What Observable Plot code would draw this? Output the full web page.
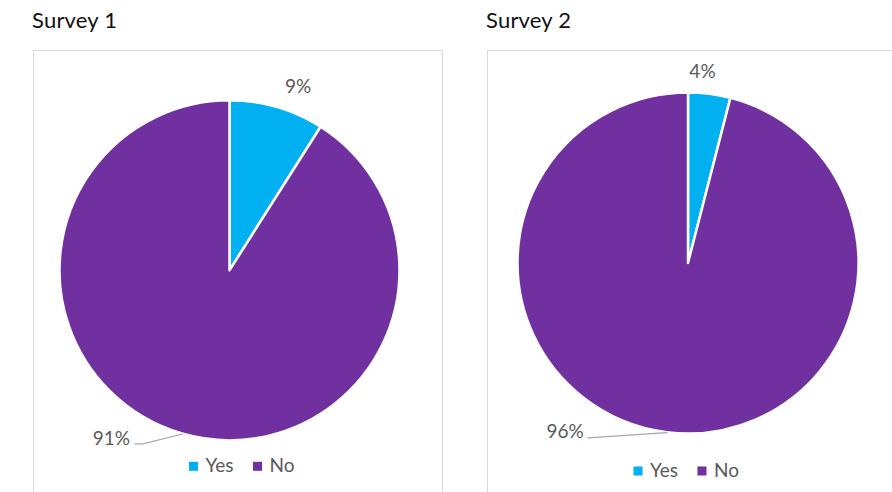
<!DOCTYPE html>
<html><head><meta charset="utf-8">
<script src="https://cdn.jsdelivr.net/npm/d3@7"></script>
<script src="https://cdn.jsdelivr.net/npm/@observablehq/plot@0.6"></script>
<style>
html,body{margin:0;padding:0;background:#fff;}
body{width:892px;height:492px;overflow:hidden;position:relative;font-family:Lato,"Open Sans",sans-serif;}
.title{position:absolute;font-size:22px;color:#111;line-height:22px;white-space:nowrap;letter-spacing:0.2px;}
.box{position:absolute;border:1.5px solid #d9d9d9;box-sizing:border-box;}
.chart{position:absolute;}
</style></head><body>
<script>
// ---- data ----
const categories = ["Yes", "No"];
const colors = ["#00B0F0", "#7030A0"];
const surveyTitles = ["Survey 1", "Survey 2"];
const survey1Values = [9, 91];
const survey2Values = [4, 96];
const survey1Labels = ["9%", "91%"];
const survey2Labels = ["4%", "96%"];

// ---- layout (pixels for frames, radius units for in-chart placement) ----
const layouts = [
  { titleLeft: 32, titleTop: 9, boxLeft: 33, boxTop: 50, boxWidth: 410,
    cx: 196.5, cy: 220.3, r: 170,
    labelPos: [[0.40, 1.08, "middle"], [-0.588, -0.988, "end"]],
    leaderStart: [null, [[-0.559, -1.018], [-0.512, -1.018]]],
    legendX: [-0.215, 0.162], legendY: -1.15 },
  { titleLeft: 486, titleTop: 9, boxLeft: 487, boxTop: 50, boxWidth: 420,
    cx: 201, cy: 213, r: 170.5,
    labelPos: [[0.082, 1.123, "middle"], [-0.614, -0.988, "end"]],
    leaderStart: [null, [[-0.591, -1.023]]],
    legendX: [-0.296, 0.079], legendY: -1.217 }
];
const surveys = [
  { title: surveyTitles[0], values: survey1Values, labels: survey1Labels },
  { title: surveyTitles[1], values: survey2Values, labels: survey2Labels }
];

const BOX_H = 460;
const TEXT_GRAY = "#595959";

surveys.forEach((s, i) => {
  const L = layouts[i];
  const rows = categories.map((c, k) => ({ category: c, value: s.values[k], label: s.labels[k] }));
  const arcs = d3.pie().sort(null).value(d => d.value)(rows);

  const labelRows = arcs.map((a, k) => ({
    x: L.labelPos[k][0], y: L.labelPos[k][1], anchor: L.labelPos[k][2], text: a.data.label
  }));
  const leaderRows = [];
  arcs.forEach((a, k) => {
    const st = L.leaderStart[k];
    if (!st) return;
    const mid = (a.startAngle + a.endAngle) / 2;
    st.forEach(p => leaderRows.push({ x: p[0], y: p[1], id: k }));
    leaderRows.push({ x: Math.sin(mid), y: Math.cos(mid), id: k });
  });
  const legendRows = categories.map((c, k) => ({ category: c, x: L.legendX[k], y: L.legendY }));

  const pieMark = (index, scales) => {
    const r = scales.x(1) - scales.x(0);
    const g = d3.create("svg:g")
      .attr("transform", `translate(${scales.x(0)},${scales.y(0)})`);
    const arc = d3.arc().innerRadius(0).outerRadius(r);
    g.selectAll("path").data(arcs).join("path")
      .attr("d", arc)
      .attr("fill", d => scales.color(d.data.category))
      .attr("stroke", "#fff")
      .attr("stroke-width", 2.5)
      .attr("stroke-linejoin", "round");
    return g.node();
  };

  const chart = Plot.plot({
    width: L.boxWidth, height: BOX_H,
    margin: 0,
    style: { fontFamily: "Lato, sans-serif", background: "transparent", overflow: "visible" },
    x: { domain: [-1, 1], range: [L.cx - L.r, L.cx + L.r], axis: null },
    y: { domain: [-1, 1], range: [L.cy + L.r, L.cy - L.r], axis: null },
    color: { domain: categories, range: colors },
    marks: [
      pieMark,
      Plot.line(leaderRows, { x: "x", y: "y", z: "id", stroke: "#a6a6a6", strokeWidth: 1.1 }),
      Plot.text(labelRows.filter(d => d.anchor === "middle"), { x: "x", y: "y", text: "text", fill: TEXT_GRAY, fontSize: 19, textAnchor: "middle" }),
      Plot.text(labelRows.filter(d => d.anchor === "end"), { x: "x", y: "y", text: "text", fill: TEXT_GRAY, fontSize: 19, textAnchor: "end" }),
      Plot.dot(legendRows, { x: "x", y: "y", fill: "category", symbol: "square", r: 5.1 }),
      Plot.text(legendRows, { x: "x", y: "y", text: "category", fill: TEXT_GRAY, fontSize: 19, textAnchor: "start", dx: 12 })
    ]
  });
  chart.classList.add("chart");
  chart.style.left = L.boxLeft + "px";
  chart.style.top = L.boxTop + "px";
  document.body.appendChild(chart);

  const box = document.createElement("div");
  box.className = "box";
  Object.assign(box.style, { left: L.boxLeft + "px", top: L.boxTop + "px", width: L.boxWidth + "px", height: BOX_H + "px" });
  document.body.appendChild(box);

  const t = document.createElement("div");
  t.className = "title";
  t.textContent = s.title;
  t.style.left = L.titleLeft + "px";
  t.style.top = L.titleTop + "px";
  document.body.appendChild(t);
});
</script>
</body></html>
